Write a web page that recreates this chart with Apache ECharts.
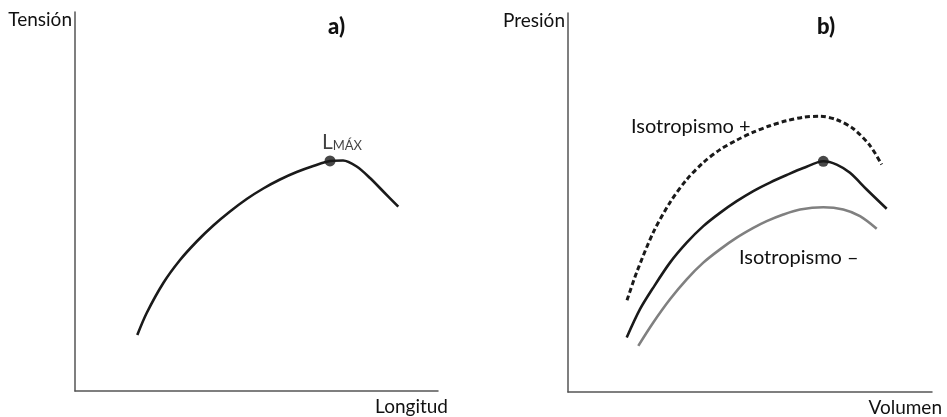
<!DOCTYPE html>
<html>
<head>
<meta charset="utf-8">
<script src="https://cdn.jsdelivr.net/npm/echarts@6/dist/echarts.min.js"></script>
<style>
html,body{margin:0;padding:0;background:#fff;}
#chart{width:947px;height:417px;}
</style>
</head>
<body>
<div id="chart"></div>
<script>
// Panel a) Tensión vs Longitud
const aLongitud = [17.16, 19.75, 24.33, 28.93, 33.53, 38.10, 42.70, 47.30, 51.87, 56.47, 61.07, 65.65, 70.25, 73.83, 77.60, 81.27, 84.93, 89.06];
const aTension  = [14.78, 20.58, 28.50, 34.56, 39.45, 43.67, 47.36, 50.66, 53.43, 55.80, 57.78, 59.37, 60.69, 60.82, 59.23, 56.20, 52.64, 48.65];
const aMax = [70.25, 60.69];

// Panel b) Presión vs Volumen
const bPlusVol  = [16.21, 18.87, 23.43, 28.02, 32.61, 37.17, 41.76, 46.35, 50.91, 55.49, 60.08, 64.64, 69.23, 73.82, 78.38, 82.97, 86.18];
const bPlusPres = [24.21, 31.58, 42.11, 50.00, 56.05, 60.53, 63.95, 66.45, 68.55, 70.26, 71.58, 72.50, 72.76, 71.84, 69.47, 65.00, 60.00];
const bMidVol   = [16.13, 19.78, 23.43, 28.02, 32.61, 37.17, 41.76, 46.35, 50.91, 55.49, 60.08, 64.64, 70.14, 73.82, 77.47, 82.06, 87.55];
const bMidPres  = [14.39, 21.84, 27.55, 34.13, 39.39, 43.76, 47.26, 50.34, 53.03, 55.26, 57.24, 59.08, 60.87, 60.00, 57.82, 53.42, 48.34];
const bMinVol   = [19.31, 23.43, 28.02, 32.61, 37.17, 41.76, 46.35, 50.91, 54.59, 59.15, 63.74, 70.14, 75.63, 80.22, 84.81];
const bMinPres  = [12.18, 18.34, 24.47, 29.74, 34.13, 37.63, 40.71, 43.29, 45.08, 46.84, 48.16, 48.76, 48.16, 46.40, 43.08];
const bMax = [70.14, 60.87];

const FONT = 'Lato, "Open Sans", sans-serif';
const zip = (xs, ys) => xs.map((x, i) => [x, ys[i]]);

function axis(name, vertical, gridIndex) {
  const base = {
    type: 'value', gridIndex, min: 0, max: 100,
    axisLine: { show: true, lineStyle: { color: '#555', width: 1.5 } },
    axisTick: { show: false }, axisLabel: { show: false }, splitLine: { show: false },
    name, nameLocation: 'end'
  };
  if (vertical) {
    base.nameGap = -8;
    base.nameTextStyle = { fontFamily: FONT, fontSize: 19, color: '#111', align: 'right', verticalAlign: 'middle', padding: [0, 3, 0, 0] };
  } else {
    base.nameGap = 10;
    base.nameTextStyle = { fontFamily: FONT, fontSize: 19, color: '#111', align: 'right', verticalAlign: 'top', padding: [6, 0, 0, 0] };
  }
  return base;
}

const chart = echarts.init(document.getElementById('chart'));
const option = {
  animation: false,
  backgroundColor: '#fff',
  title: [
    { text: 'a)', left: 323, top: 11, textStyle: { fontFamily: FONT, fontWeight: 900, fontSize: 22, color: '#111' } },
    { text: 'b)', left: 812, top: 11, textStyle: { fontFamily: FONT, fontWeight: 900, fontSize: 22, color: '#111' } }
  ],
  grid: [
    { left: 75, top: 12, width: 363, height: 379 },
    { left: 568, top: 13, width: 364, height: 380 }
  ],
  xAxis: [axis('Longitud', false, 0), axis('Volumen', false, 1)],
  yAxis: [axis('Tensión', true, 0), axis('Presión', true, 1)],
  graphic: [
    { type: 'text', left: 631, top: 117, style: { text: 'Isotropismo +', font: '20px ' + FONT, fill: '#111' } },
    { type: 'text', left: 739, top: 248, style: { text: 'Isotropismo –', font: '20px ' + FONT, fill: '#111' } }
  ],
  series: [
    { type: 'line', xAxisIndex: 0, yAxisIndex: 0, data: zip(aLongitud, aTension), smooth: 0.3, showSymbol: false,
      lineStyle: { color: '#1a1a1a', width: 2.6 } },
    { type: 'scatter', xAxisIndex: 0, yAxisIndex: 0, data: [aMax], symbolSize: 11, itemStyle: { color: '#1a1a1a' },
      label: { show: true, position: 'top', distance: 3, offset: [12, 0], formatter: '{l|L}{s|MÁX}',
        rich: { l: { fontFamily: FONT, fontSize: 21, color: '#111', verticalAlign: 'bottom' },
                s: { fontFamily: FONT, fontSize: 13, color: '#111', verticalAlign: 'bottom' } } } },
    { type: 'line', xAxisIndex: 1, yAxisIndex: 1, data: zip(bPlusVol, bPlusPres), smooth: 0.3, showSymbol: false,
      lineStyle: { color: '#1a1a1a', width: 3, type: [5, 3] } },
    { type: 'line', xAxisIndex: 1, yAxisIndex: 1, data: zip(bMidVol, bMidPres), smooth: 0.3, showSymbol: false,
      lineStyle: { color: '#1a1a1a', width: 2.6 } },
    { type: 'line', xAxisIndex: 1, yAxisIndex: 1, data: zip(bMinVol, bMinPres), smooth: 0.3, showSymbol: false,
      lineStyle: { color: '#808080', width: 2.6 } },
    { type: 'scatter', xAxisIndex: 1, yAxisIndex: 1, data: [bMax], symbolSize: 11, itemStyle: { color: '#1a1a1a' } }
  ]
};
chart.setOption(option);
</script>
</body>
</html>
